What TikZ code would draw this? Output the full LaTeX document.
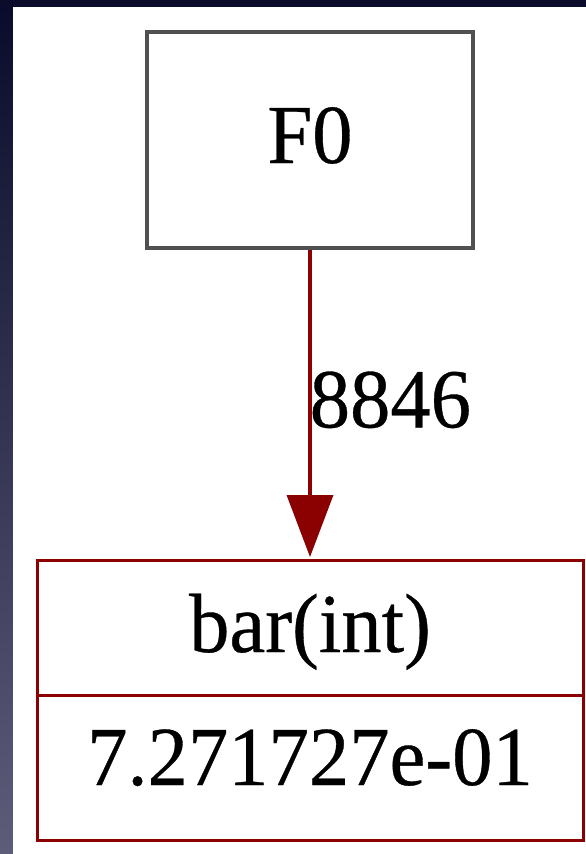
\documentclass[tikz,border=0pt]{standalone}
\usepackage{fontspec}
\setmainfont{Liberation Serif}[FakeStretch=0.96, FakeBold=0.4]
\usetikzlibrary{arrows.meta}

\definecolor{navy}{HTML}{0B0B2B}
\definecolor{navylight}{HTML}{5D5D7A}
\definecolor{boxgray}{HTML}{505050}
\definecolor{edgered}{HTML}{8B0000}

\tikzset{
  gvtext/.style={font=\fontsize{84}{100}\selectfont, text=black},
  plainbox/.style={gvtext, draw=boxgray, line width=4.5pt, fill=white,
    minimum width=326pt, minimum height=216pt, inner sep=0pt,
    text height=60pt, text depth=14pt},
  cell/.style={gvtext, draw=edgered, line width=3pt, fill=white,
    minimum width=546pt, inner sep=0pt},
  flow/.style={draw=edgered, line width=3.5pt,
    -{Triangle[width=46pt,length=62pt]}},
  flowlabel/.style={gvtext, inner sep=0pt}
}

\begin{document}
\begin{tikzpicture}[x=1pt, y=-1pt]
  % window frame: dark top band and shaded left strip
  \fill[navy] (0,0) rectangle (586,854);
  \shade[top color=navy, bottom color=navylight] (0,7) rectangle (13,854);
  \fill[white] (13,7) rectangle (586,854);
  \useasboundingbox (0,0) rectangle (586,854);

  % function node
  \node[plainbox] (f0) at (310,140) {F0};

  % record node: name cell over value cell
  \node[cell, minimum height=135pt, text height=60pt, text depth=11pt]
    (bartop) at (310,627.5) {bar(int)};
  \node[cell, minimum height=145pt, text height=60pt, text depth=25pt]
    (barval) at (310,767.5) {7.271727e-01};

  % call edge with its count
  \draw[flow, shorten >=1.5pt] (f0) -- (bartop)
    node[flowlabel, pos=0.5, anchor=base west, xshift=-2pt, yshift=-23pt] {8846};
\end{tikzpicture}
\end{document}
